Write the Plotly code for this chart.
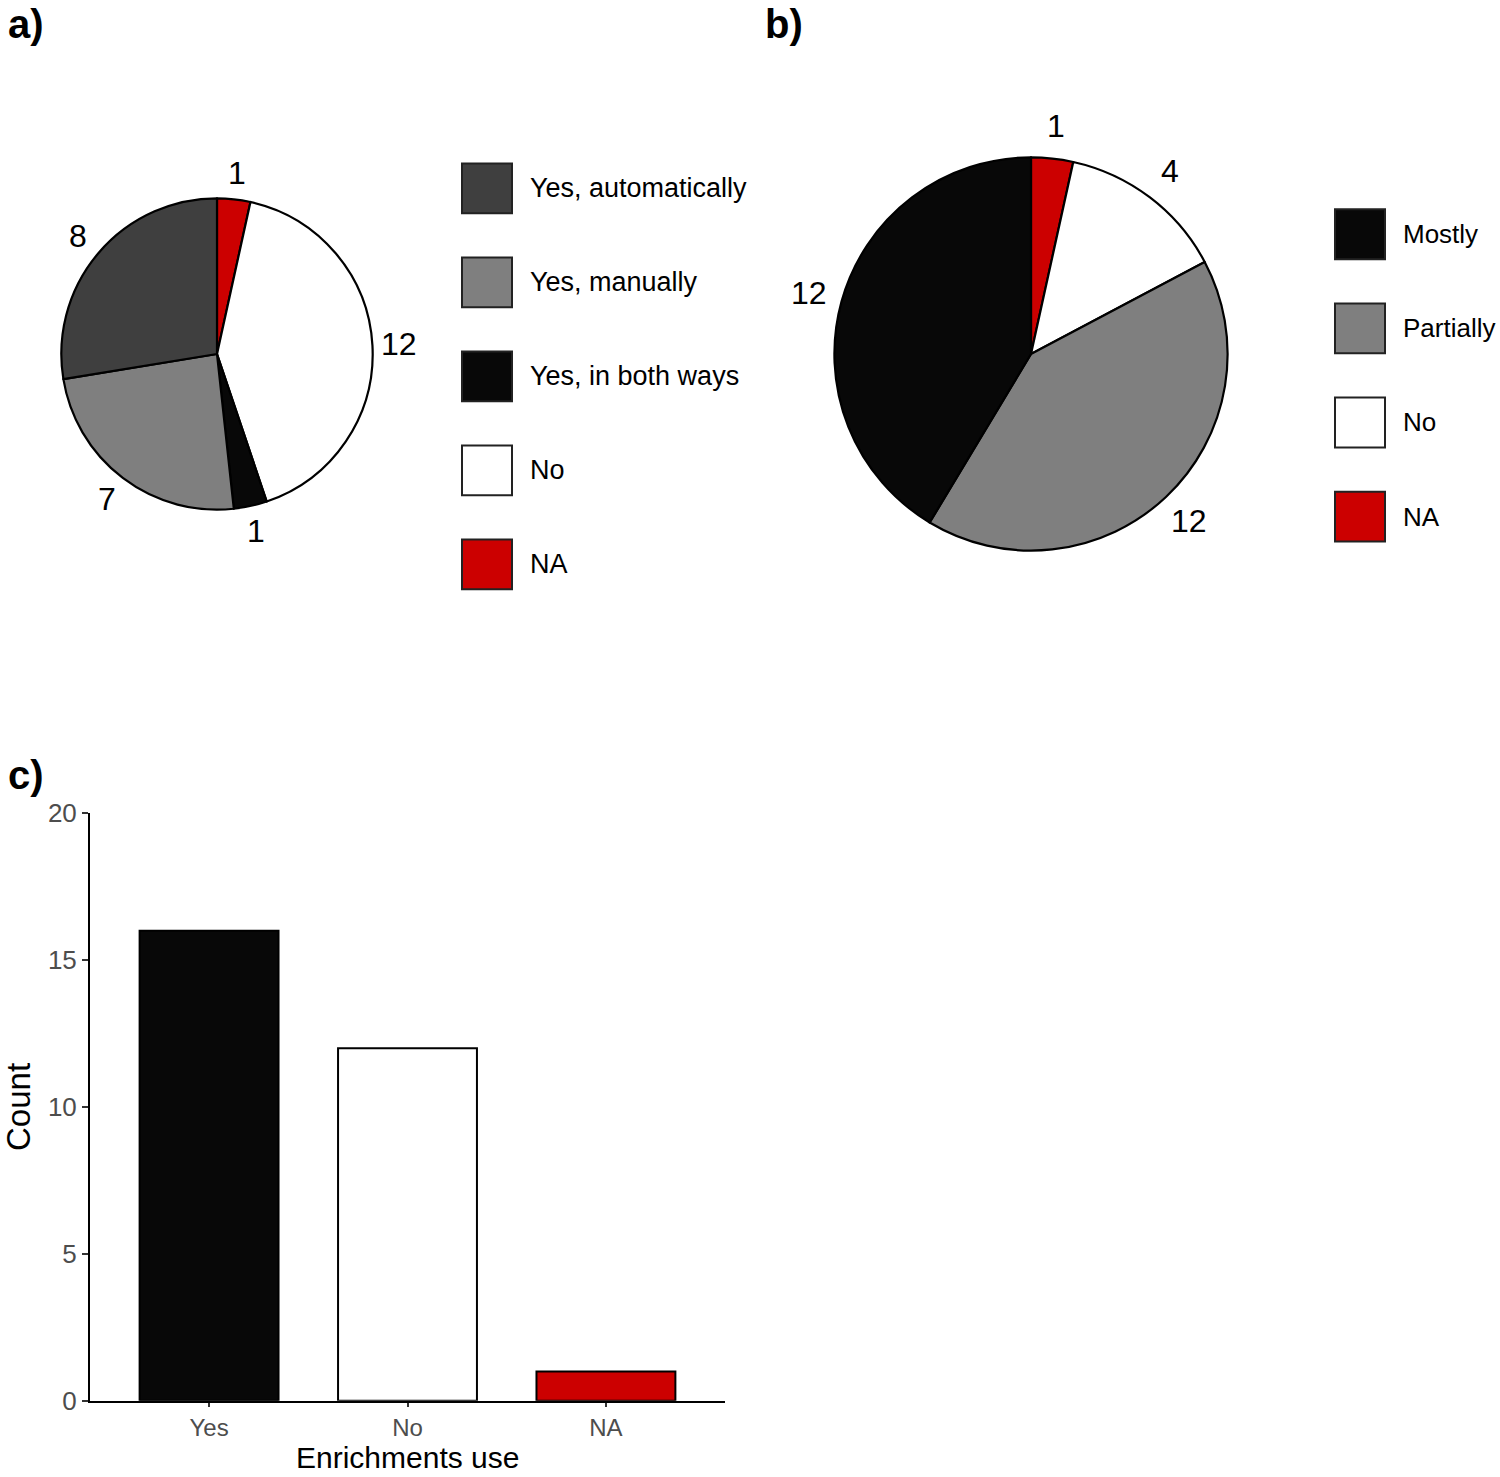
import math
import plotly.graph_objects as go

W, H = 1500, 1500
# the page is photographed slightly squeezed vertically; these map
# reference pixels back to page pixels
SY, DY = 0.982, 13.3

# panel a: automatic/manual data annotation
a_labels = ["Yes, automatically", "Yes, manually", "Yes, in both ways", "No", "NA"]
a_values = [8, 7, 1, 12, 1]
a_colors = ["#3f3f3f", "#7f7f7f", "#080808", "#ffffff", "#cc0000"]

# panel b
b_labels = ["Mostly", "Partially", "No", "NA"]
b_values = [12, 12, 4, 1]
b_colors = ["#080808", "#7f7f7f", "#ffffff", "#cc0000"]

# panel c
c_cats = ["Yes", "No", "NA"]
c_counts = [16, 12, 1]
c_colors = ["#080808", "#ffffff", "#cc0000"]

FONT = "Liberation Sans, Arial, sans-serif"


def px(x):
    return x / W


def py(y):
    return 1 - (y - DY) / SY / H


shapes = []
annotations = []


def pie(labels, values, colors, cx, cy, r):
    # draw clockwise from 12 o'clock, NA first like the original
    order = list(range(len(labels)))[::-1]
    vals = [values[i] for i in order]
    # value labels sit just outside the rim, at each slice's mid angle
    total = float(sum(vals))
    cum = 0
    for v in vals:
        ang = 2 * math.pi * (cum + v / 2) / total
        cum += v
        rl = 1.167 * r
        annotations.append(dict(
            x=px(cx + rl * math.sin(ang)), y=py(cy - rl * math.cos(ang)),
            xref="paper", yref="paper", text=str(v), showarrow=False,
            xanchor="center", yanchor="middle",
            font=dict(size=32, color="black", family=FONT),
        ))
    hr = r / SY
    return go.Pie(
        labels=[labels[i] for i in order],
        values=vals,
        marker=dict(colors=[colors[i] for i in order], line=dict(color="black", width=2.2)),
        sort=False,
        direction="clockwise",
        rotation=0,
        textinfo="none",
        domain=dict(x=[px(cx - r), px(cx + r)], y=[py(cy) - hr / H, py(cy) + hr / H]),
        showlegend=False,
        hoverinfo="label+value",
    )


fig = go.Figure()
fig.add_trace(pie(a_labels, a_values, a_colors, 217, 353, 156))
fig.add_trace(pie(b_labels, b_values, b_colors, 1031, 353, 197))

fig.add_trace(go.Bar(
    x=c_cats, y=c_counts, width=0.7,
    marker=dict(color=c_colors, line=dict(color="black", width=2)),
    xaxis="x", yaxis="y", showlegend=False,
))


def legend(labels, colors, x0, y0, step, fsize):
    for i, (lab, col) in enumerate(zip(labels, colors)):
        yc = y0 + i * step
        shapes.append(dict(
            type="rect", xref="paper", yref="paper",
            x0=px(x0), x1=px(x0 + 50), y0=py(yc + 25), y1=py(yc - 25),
            fillcolor=col, line=dict(color="#222222", width=2),
        ))
        annotations.append(dict(
            x=px(x0 + 66), y=py(yc), xref="paper", yref="paper",
            text=lab, showarrow=False, xanchor="left", yanchor="middle",
            font=dict(size=fsize, color="black", family=FONT),
        ))


legend(a_labels, a_colors, 462, 187, 94.2, 27)
legend(b_labels, b_colors, 1335, 233, 94.3, 26)

for txt, x, y in [("a)", 6, 22), ("b)", 763, 22), ("c)", 6, 775)]:
    annotations.append(dict(
        x=px(x), y=py(y), xref="paper", yref="paper", text="<b>%s</b>" % txt,
        showarrow=False, xanchor="left", yanchor="middle",
        font=dict(size=40, color="black", family=FONT),
    ))

# x axis title, kept a little clear of the bottom edge
annotations.append(dict(
    x=px(407.5), y=py(1459), xref="paper", yref="paper", text="Enrichments use",
    showarrow=False, xanchor="center", yanchor="middle",
    font=dict(size=30, color="black", family=FONT),
))

fig.update_layout(
    width=W, height=H,
    margin=dict(l=0, r=0, t=0, b=0),
    paper_bgcolor="white", plot_bgcolor="white",
    font=dict(family=FONT, color="black"),
    shapes=shapes, annotations=annotations,
    xaxis=dict(
        domain=[px(90), px(725)], range=[-0.6, 2.6],
        showline=True, linecolor="black", linewidth=2,
        ticks="outside", ticklen=4, tickwidth=2, tickcolor="#333333",
        tickfont=dict(size=24, color="#4d4d4d"),
        showgrid=False, zeroline=False,
    ),
    yaxis=dict(
        domain=[py(1402), py(813)], range=[0, 20],
        tickvals=[0, 5, 10, 15, 20],
        showline=True, linecolor="black", linewidth=2,
        ticks="outside", ticklen=6, tickwidth=2, tickcolor="#333333",
        tickfont=dict(size=26, color="#4d4d4d"),
        title=dict(text="Count", font=dict(size=33, color="black"), standoff=8),
        showgrid=False, zeroline=False,
    ),
)

fig.write_html(
    "out.html",
    config={"displayModeBar": False},
    post_script="document.body.style.margin='0';",
)
